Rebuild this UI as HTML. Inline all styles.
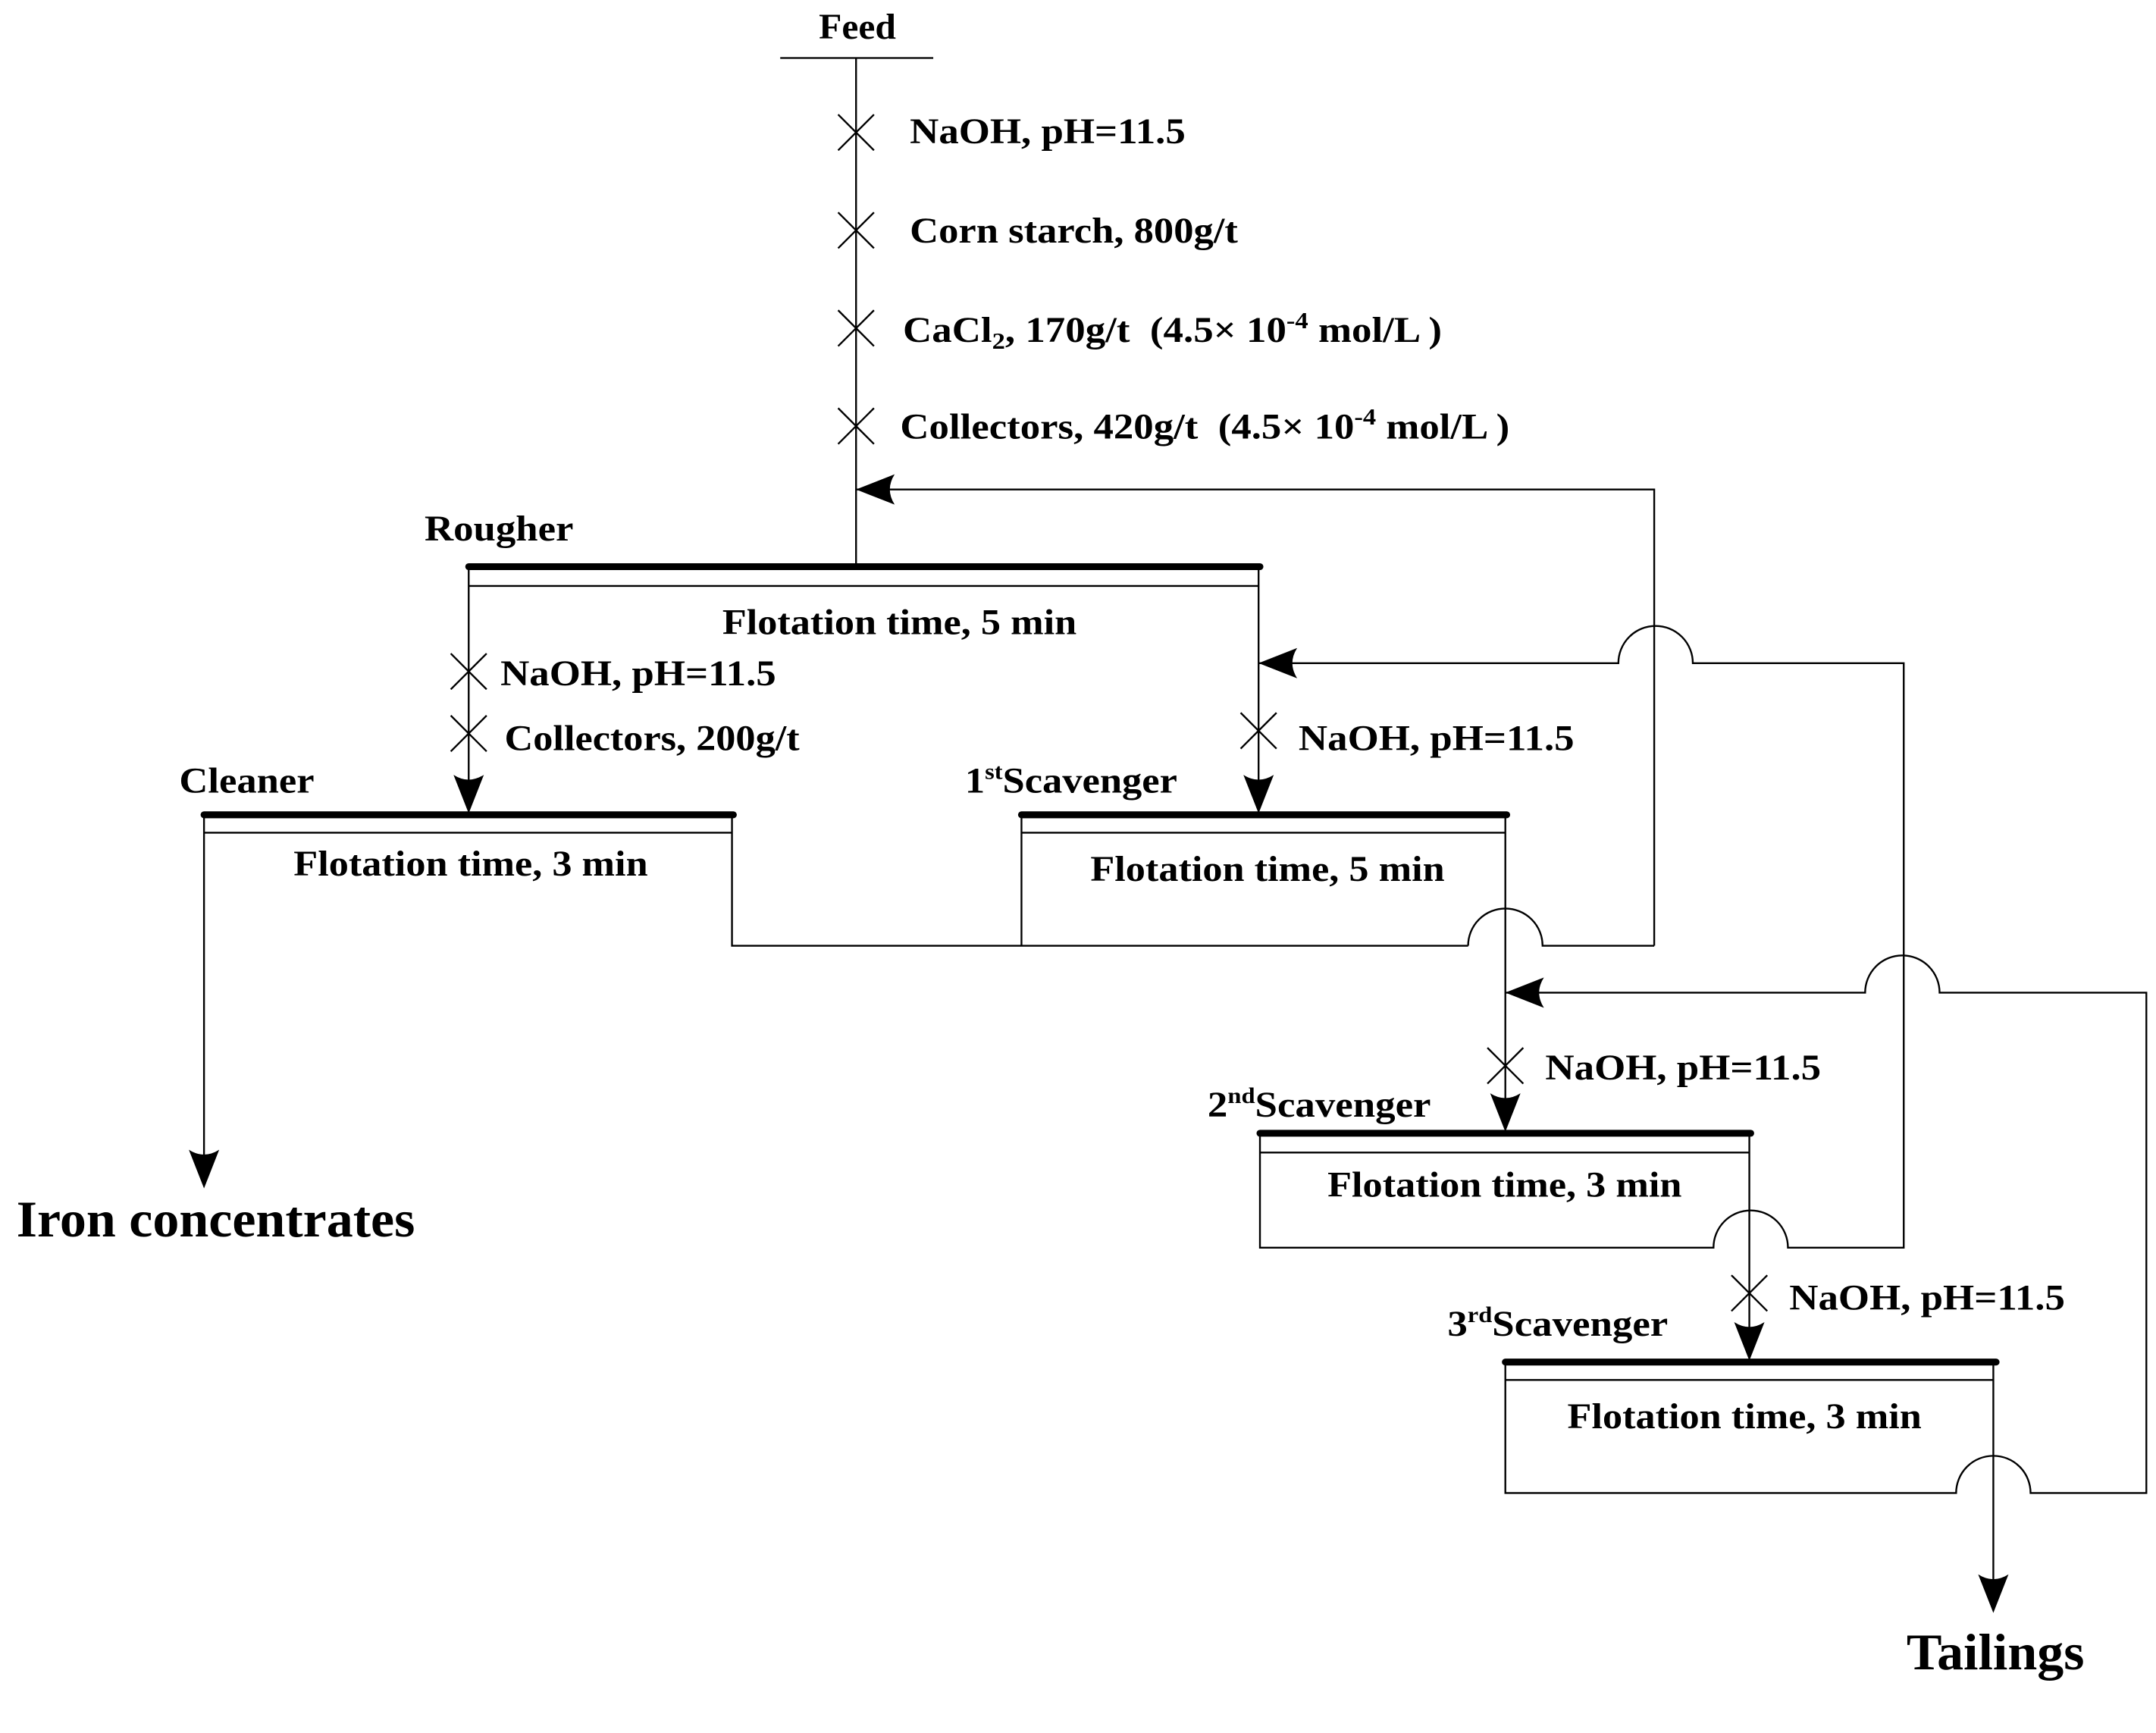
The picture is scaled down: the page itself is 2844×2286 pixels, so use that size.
<!DOCTYPE html>
<html><head><meta charset="utf-8"><style>
html,body{margin:0;padding:0;background:#fff;}
svg{display:block;}
text{font-family:"Liberation Serif",serif;font-weight:bold;fill:#000;}
</style></head><body>
<svg width="2844" height="2286" viewBox="0 0 1564 1257" xmlns="http://www.w3.org/2000/svg">
<defs>
<path id="ad" d="M0,0 L-11,-28 Q0,-21 11,-28 Z"/>
</defs>
<g stroke="#000" stroke-width="1.3" fill="none">
<line x1="566" y1="42" x2="677" y2="42"/>
<line x1="621" y1="42" x2="621" y2="411"/>
<path d="M608,83 L634,109 M634,83 L608,109"/>
<path d="M608,154 L634,180 M634,154 L608,180"/>
<path d="M608,225 L634,251 M634,225 L608,251"/>
<path d="M608,296 L634,322 M634,296 L608,322"/>
<polyline points="621,355 1200,355 1200,686"/>
<line x1="340" y1="411" x2="914" y2="411" stroke-width="5" stroke-linecap="round"/>
<line x1="340" y1="425" x2="913" y2="425"/>
<line x1="340" y1="411" x2="340" y2="580"/>
<line x1="913" y1="411" x2="913" y2="580"/>
<path d="M327,474 L353,500 M353,474 L327,500"/>
<path d="M327,519 L353,545 M353,519 L327,545"/>
<path d="M900,517 L926,543 M926,517 L900,543"/>
<path d="M913,481 L1174,481 A27,27 0 0 1 1228,481 L1381,481 L1381,905 L1297,905 A27,27 0 0 0 1243,905 L914,905 L914,822"/>
<line x1="148" y1="591" x2="532" y2="591" stroke-width="5" stroke-linecap="round"/>
<line x1="148" y1="604" x2="531" y2="604"/>
<line x1="148" y1="591" x2="148" y2="840"/>
<polyline points="531,591 531,686 1065,686"/>
<path d="M1065,686 A27,27 0 0 1 1119,686 L1200,686"/>
<line x1="741" y1="591" x2="1093" y2="591" stroke-width="5" stroke-linecap="round"/>
<line x1="741" y1="604" x2="1092" y2="604"/>
<line x1="741" y1="591" x2="741" y2="686"/>
<line x1="1092" y1="591" x2="1092" y2="800"/>
<path d="M1092,720 L1353,720 A27,27 0 0 1 1407,720 L1557,720 L1557,1083 L1473,1083 A27,27 0 0 0 1419,1083 L1092,1083 L1092,988"/>
<path d="M1079,760 L1105,786 M1105,760 L1079,786"/>
<line x1="914" y1="822" x2="1270" y2="822" stroke-width="5" stroke-linecap="round"/>
<line x1="914" y1="836" x2="1269" y2="836"/>
<line x1="1269" y1="822" x2="1269" y2="965"/>
<path d="M1256,925 L1282,951 M1282,925 L1256,951"/>
<line x1="1092" y1="988" x2="1448" y2="988" stroke-width="5" stroke-linecap="round"/>
<line x1="1092" y1="1001" x2="1446" y2="1001"/>
<line x1="1446" y1="988" x2="1446" y2="1150"/>
</g>
<g fill="#000">
<use href="#ad" transform="translate(621,355) rotate(90)"/>
<use href="#ad" transform="translate(913,481) rotate(90)"/>
<use href="#ad" transform="translate(1092,720) rotate(90)"/>
<use href="#ad" transform="translate(340,590)"/>
<use href="#ad" transform="translate(913,590)"/>
<use href="#ad" transform="translate(1092,821)"/>
<use href="#ad" transform="translate(1269,987)"/>
<use href="#ad" transform="translate(148,862)"/>
<use href="#ad" transform="translate(1446,1170)"/>
</g>
<g font-size="26">
<text x="594" y="28" textLength="56" lengthAdjust="spacingAndGlyphs">Feed</text>
<text x="660" y="104" textLength="200" lengthAdjust="spacingAndGlyphs">NaOH, pH=11.5</text>
<text x="660" y="176" textLength="238" lengthAdjust="spacingAndGlyphs">Corn starch, 800g/t</text>
<text x="655" y="248" textLength="391" lengthAdjust="spacingAndGlyphs">CaCl<tspan font-size="17" dy="5">2</tspan><tspan dy="-5">, 170g/t&#160;&#160;(4.5× 10</tspan><tspan font-size="17" dy="-10">-4</tspan><tspan dy="10"> mol/L )</tspan></text>
<text x="653" y="318" textLength="442" lengthAdjust="spacingAndGlyphs">Collectors, 420g/t&#160;&#160;(4.5× 10<tspan font-size="17" dy="-10">-4</tspan><tspan dy="10"> mol/L )</tspan></text>
<text x="308" y="392" textLength="108" lengthAdjust="spacingAndGlyphs">Rougher</text>
<text x="524" y="460" textLength="257" lengthAdjust="spacingAndGlyphs">Flotation time, 5 min</text>
<text x="363" y="497" textLength="200" lengthAdjust="spacingAndGlyphs">NaOH, pH=11.5</text>
<text x="366" y="544" textLength="214" lengthAdjust="spacingAndGlyphs">Collectors, 200g/t</text>
<text x="942" y="544" textLength="200" lengthAdjust="spacingAndGlyphs">NaOH, pH=11.5</text>
<text x="130" y="575" textLength="98" lengthAdjust="spacingAndGlyphs">Cleaner</text>
<text x="700" y="575" textLength="154" lengthAdjust="spacingAndGlyphs">1<tspan font-size="16" dy="-10">st</tspan><tspan dy="10">Scavenger</tspan></text>
<text x="213" y="635" textLength="257" lengthAdjust="spacingAndGlyphs">Flotation time, 3 min</text>
<text x="791" y="639" textLength="257" lengthAdjust="spacingAndGlyphs">Flotation time, 5 min</text>
<text x="1121" y="783" textLength="200" lengthAdjust="spacingAndGlyphs">NaOH, pH=11.5</text>
<text x="876" y="810" textLength="162" lengthAdjust="spacingAndGlyphs">2<tspan font-size="16" dy="-10">nd</tspan><tspan dy="10">Scavenger</tspan></text>
<text x="963" y="868" textLength="257" lengthAdjust="spacingAndGlyphs">Flotation time, 3 min</text>
<text x="1298" y="950" textLength="200" lengthAdjust="spacingAndGlyphs">NaOH, pH=11.5</text>
<text x="1050" y="969" textLength="160" lengthAdjust="spacingAndGlyphs">3<tspan font-size="16" dy="-10">rd</tspan><tspan dy="10">Scavenger</tspan></text>
<text x="1137" y="1036" textLength="257" lengthAdjust="spacingAndGlyphs">Flotation time, 3 min</text>
</g>
<text x="12" y="897" font-size="37" textLength="289" lengthAdjust="spacingAndGlyphs">Iron concentrates</text>
<text x="1383" y="1211" font-size="37" textLength="129" lengthAdjust="spacingAndGlyphs">Tailings</text>
</svg>
</body></html>
